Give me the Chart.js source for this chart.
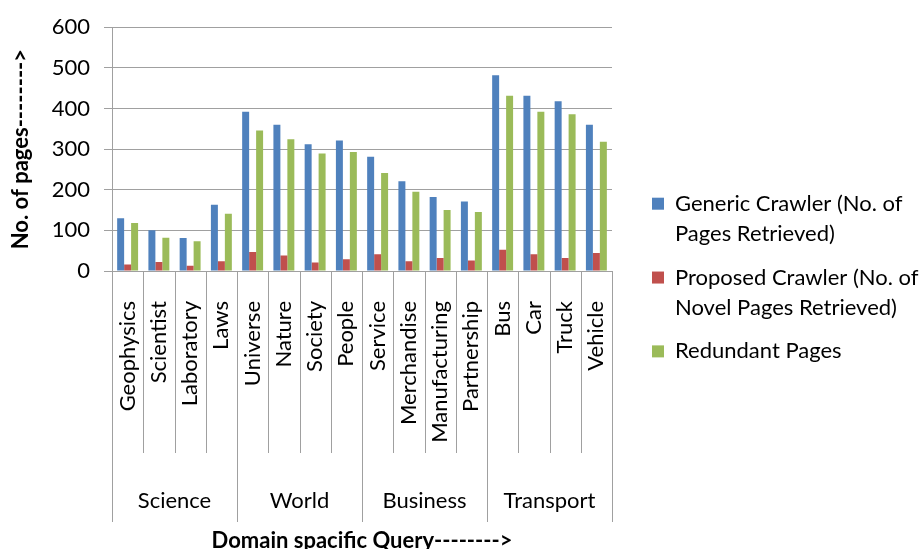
<!DOCTYPE html>
<html>
<head>
<meta charset="utf-8">
<script src="https://cdn.jsdelivr.net/npm/chart.js@4.4.1/dist/chart.umd.min.js"></script>
<style>
html, body { margin: 0; padding: 0; background: #fff; overflow: hidden; }
#wrap { width: 923px; height: 549px; }
</style>
</head>
<body>
<div id="wrap"><canvas id="crawlerChart" width="923" height="549"></canvas></div>
<script>
// values
var queries = ["Geophysics", "Scientist", "Laboratory", "Laws",
               "Universe", "Nature", "Society", "People",
               "Service", "Merchandise", "Manufacturing", "Partnership",
               "Bus", "Car", "Truck", "Vehicle"];
var queryDomain = ["Science", "Science", "Science", "Science",
                   "World", "World", "World", "World",
                   "Business", "Business", "Business", "Business",
                   "Transport", "Transport", "Transport", "Transport"];
var domains = ["Science", "World", "Business", "Transport"];

var genericPages   = [130, 100, 81, 163, 392, 360, 312, 321, 281, 221, 182, 171, 482, 431, 418, 360];
var novelPages     = [16, 22, 13, 24, 47, 38, 21, 29, 41, 24, 32, 26, 52, 41, 32, 44];
var redundantPages = [118, 82, 73, 141, 346, 324, 289, 293, 241, 195, 150, 145, 431, 392, 386, 318];

var seriesNames = [
    ["Generic Crawler (No. of", "Pages Retrieved)"],
    ["Proposed Crawler (No. of", "Novel Pages Retrieved)"],
    ["Redundant Pages"]
];
var seriesColors = ["#4f81bd", "#c0504d", "#9bbb59"];
var yMax = 600;
var yStep = 100;

var lineColor = "#a0a0a0";
var titleBand = 17;

Chart.defaults.font.family = "Lato, 'Open Sans', sans-serif";
Chart.defaults.color = "#000";

// separator lines for the two-level category axis
var separators = {
    id: "separators",
    afterDraw: function(chart) {
        var x = chart.scales.x;
        var x2 = chart.scales.x2;
        var ctx = chart.ctx;
        var step = x.getPixelForValue(1) - x.getPixelForValue(0);
        ctx.save();
        ctx.strokeStyle = lineColor;
        ctx.lineWidth = 1;
        for (var i = 0; i <= queries.length; i++) {
            var px = Math.round(x.getPixelForValue(0) + (i - 0.5) * step) + 0.5;
            var isGroupEdge = i == 0 || i == queries.length || queryDomain[i] != queryDomain[i - 1];
            var bottom = isGroupEdge ? x2.bottom - titleBand : x.bottom;
            ctx.beginPath();
            ctx.moveTo(px, chart.chartArea.bottom);
            ctx.lineTo(px, bottom);
            ctx.stroke();
        }
        ctx.restore();
    }
};

var datasets = [genericPages, novelPages, redundantPages].map(function(values, i) {
    return {
        label: seriesNames[i].join(" "),
        data: values,
        backgroundColor: seriesColors[i],
        borderWidth: 0,
        categoryPercentage: 0.67,
        barPercentage: 1.0,
    };
});

var crawlerChart = new Chart(document.getElementById("crawlerChart"), {
    type: "bar",
    data: {
        labels: queries,
        datasets: datasets,
    },
    plugins: [separators],
    options: {
        responsive: false,
        animation: false,
        layout: {
            padding: { top: 24, left: 0, right: 0, bottom: 10 },
        },
        plugins: {
            tooltip: { enabled: false },
            legend: {
                position: "right",
                align: "center",
                maxWidth: 285,
                labels: {
                    font: { size: 22, lineHeight: 1.36 },
                    boxWidth: 12,
                    boxHeight: 12,
                    padding: 14,
                    generateLabels: function(chart) {
                        var items = Chart.defaults.plugins.legend.labels.generateLabels(chart);
                        items.forEach(function(item, i) {
                            item.text = seriesNames[i];
                            item.lineWidth = 0;
                        });
                        return items;
                    },
                },
            },
        },
        scales: {
            x: {
                grid: { display: false },
                border: { color: lineColor },
                ticks: {
                    autoSkip: false,
                    minRotation: 90,
                    maxRotation: 90,
                    padding: 22,
                    font: { size: 22 },
                },
                afterFit: function(scale) { scale.height = 182; },
            },
            x2: {
                type: "category",
                position: "bottom",
                labels: domains,
                offset: true,
                grid: { display: false },
                border: { display: false },
                ticks: {
                    padding: 27,
                    font: { size: 22 },
                },
                title: {
                    display: true,
                    text: "Domain spacific Query-------->",
                    font: { size: 22, weight: "bold" },
                    padding: { top: 0, bottom: -15 },
                },
                afterFit: function(scale) { scale.height = 86; },
            },
            y: {
                min: 0,
                max: yMax,
                ticks: {
                    stepSize: yStep,
                    padding: 14,
                    font: { size: 22 },
                },
                grid: {
                    color: lineColor,
                    tickLength: 8,
                },
                border: { color: lineColor },
                title: {
                    display: true,
                    text: "No. of pages-------->",
                    font: { size: 22, weight: "bold" },
                    padding: { top: 8, bottom: 0 },
                },
                afterFit: function(scale) { scale.width = 112; },
            },
            gap: {
                position: "right",
                display: true,
                grid: { display: false },
                border: { display: false },
                ticks: { display: false },
                afterFit: function(scale) { scale.width = 26; },
            },
        },
    },
});
</script>
</body>
</html>
